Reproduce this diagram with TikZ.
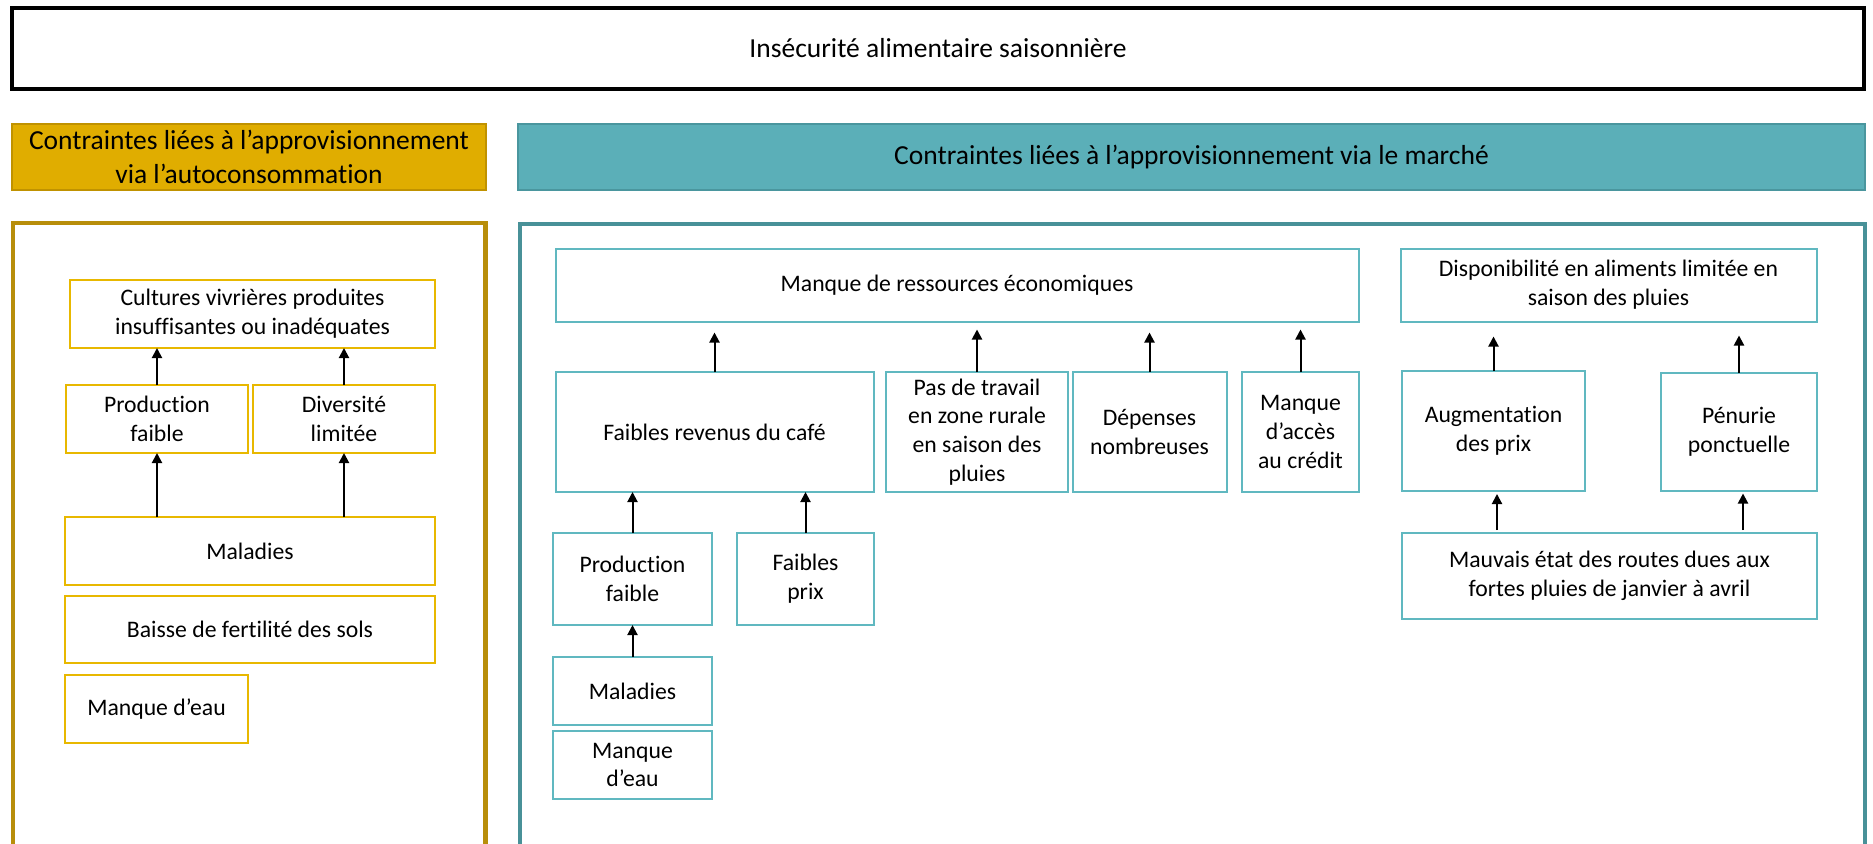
\documentclass[tikz,border=0pt]{standalone}
\usepackage{fontspec}
\setmainfont{Carlito}[RawFeature={-liga;-clig;-calt}]
\usetikzlibrary{positioning,arrows.meta}

\definecolor{goldfill}{RGB}{224,173,0}
\definecolor{goldline}{RGB}{192,146,0}
\definecolor{goldframe}{RGB}{184,142,10}
\definecolor{goldbox}{RGB}{232,184,0}
\definecolor{tealfill}{RGB}{91,175,184}
\definecolor{tealline}{RGB}{74,150,158}
\definecolor{tealframe}{RGB}{72,145,152}
\definecolor{tealbox}{RGB}{96,184,192}

\begin{document}
\begin{tikzpicture}[x=1pt, y=-1pt, node distance=11pt,
		every node/.style={inner sep=0pt, outer sep=0pt, align=center, text=black},
		title/.style={draw=black, line width=4pt, fill=white,
			font=\fontsize{27.5}{33.3}\selectfont},
		yhead/.style={draw=goldline, line width=2pt, fill=goldfill,
			font=\fontsize{27.5}{33.3}\selectfont},
		thead/.style={draw=tealline, line width=2pt, fill=tealfill,
			font=\fontsize{27.5}{33.3}\selectfont},
		ybox/.style={draw=goldbox, line width=2pt, fill=white,
			font=\fontsize{23.7}{28.7}\selectfont},
		tbox/.style={draw=tealbox, line width=2pt, fill=white,
			font=\fontsize{23.7}{28.7}\selectfont},
		arr/.style={-{Triangle[width=10pt,length=10pt]}, line width=2pt, black}]
		\useasboundingbox (0,0) rectangle (1873,843);
		\clip (0,0) rectangle (1873,843);
		% frames, open at the bottom
		\draw[goldframe, line width=4.5pt] (13,223) rectangle (485.5,900);
		\draw[tealframe, line width=4.5pt] (520,224) rectangle (1865,900);
		% headers
		\node[title, minimum width=1852pt, minimum height=80pt] (top) at (938,48.5) {Insécurité alimentaire saisonnière};
		\node[yhead, minimum width=474pt, minimum height=66pt] (autohead) at (249,157) {Contraintes liées à l’approvisionnement\\via l’autoconsommation};
		\node[thead, minimum width=1347pt, minimum height=66pt] (markethead) at (1191.5,157) {Contraintes liées à l’approvisionnement via le marché};
		% autoconsommation
		\node[ybox, minimum width=365pt, minimum height=68pt] (cult) at (252.5,314) {Cultures vivrières produites\\insuffisantes ou inadéquates};
		\node[ybox, minimum width=182pt, minimum height=68pt] (prodL) at (157,419) {Production\\faible};
		\node[ybox, minimum width=182pt, minimum height=68pt] (divL) at (344,419) {Diversité\\limitée};
		\node[ybox, minimum width=370pt, minimum height=68pt] (malL) at (250,551) {Maladies};
		\node[ybox, minimum width=370pt, minimum height=67pt] (baisse) [below=of malL] {Baisse de fertilité des sols};
		\node[ybox, minimum width=183pt, minimum height=68pt] (eauL) at (156.5,709) {Manque d’eau};
		% marche
		\node[tbox, minimum width=803pt, minimum height=73pt] (mres) at (957,285) {Manque de ressources économiques};
		\node[tbox, minimum width=318pt, minimum height=120pt] (frev) at (714.5,432) {Faibles revenus du café};
		\node[tbox, minimum width=182pt, minimum height=120pt] (travail) at (977,432) {Pas de travail\\en zone rurale\\en saison des\\pluies};
		\node[tbox, minimum width=154pt, minimum height=120pt] (depenses) at (1149.5,432) {Dépenses\\nombreuses};
		\node[tbox, minimum width=117pt, minimum height=120pt] (credit) at (1300.5,432) {Manque\\d’accès\\au crédit};
		\node[tbox, minimum width=159pt, minimum height=92pt] (prodM) at (632.5,579) {Production\\faible};
		\node[tbox, minimum width=137pt, minimum height=92pt] (prix) at (805.5,579) {Faibles\\prix};
		\node[tbox, minimum width=159pt, minimum height=68pt] (malM) at (632.5,691) {Maladies};
		\node[tbox, minimum width=159pt, minimum height=68pt] (eauM) [below=6pt of malM] {Manque\\d’eau};
		\node[tbox, minimum width=416pt, minimum height=73pt] (dispo) at (1608.5,285) {Disponibilité en aliments limitée en\\saison des pluies};
		\node[tbox, minimum width=183pt, minimum height=120pt] (augm) at (1493.5,431) {Augmentation\\des prix};
		\node[tbox, minimum width=156pt, minimum height=118pt] (penurie) at (1739,431.5) {Pénurie\\ponctuelle};
		\node[tbox, minimum width=415pt, minimum height=86pt] (routes) at (1609.5,576) {Mauvais état des routes dues aux\\fortes pluies de janvier à avril};
		% arrows
		\path (prodL.south |- malL.north) edge[arr] (prodL.south); % maladies to production
		\path (divL.south |- malL.north) edge[arr] (divL.south); % maladies to diversite
		\path (prodL.north) edge[arr] (prodL.north |- cult.south); % production to cultures
		\path (divL.north) edge[arr] (divL.north |- cult.south); % diversite to cultures
		\path (frev.north) edge[arr, shorten >=11pt] (frev.north |- mres.south); % revenus to ressources
		\path (travail.north) edge[arr, shorten >=8pt] (travail.north |- mres.south); % travail to ressources
		\path (depenses.north) edge[arr, shorten >=11pt] (depenses.north |- mres.south); % depenses to ressources
		\path (credit.north) edge[arr, shorten >=8pt] (credit.north |- mres.south); % credit to ressources
		\path (prodM.north) edge[arr] (prodM.north |- frev.south); % production to revenus
		\path (prix.north) edge[arr] (prix.north |- frev.south); % prix to revenus
		\path (malM.north) edge[arr] (prodM.south); % maladies to production
		\path (augm.north) edge[arr, shorten >=15pt] (augm.north |- dispo.south); % prix to disponibilite
		\path (penurie.north) edge[arr, shorten >=14pt] (penurie.north |- dispo.south); % penurie to disponibilite
		\path ([xshift=3.5pt]augm.south |- routes.north) edge[arr, shorten <=3pt, shorten >=3pt] ([xshift=3.5pt]augm.south); % routes to prix
		\path ([xshift=4pt]penurie.south |- routes.north) edge[arr, shorten <=3pt, shorten >=3pt] ([xshift=4pt]penurie.south); % routes to penurie
		\end{tikzpicture}
\end{document}
